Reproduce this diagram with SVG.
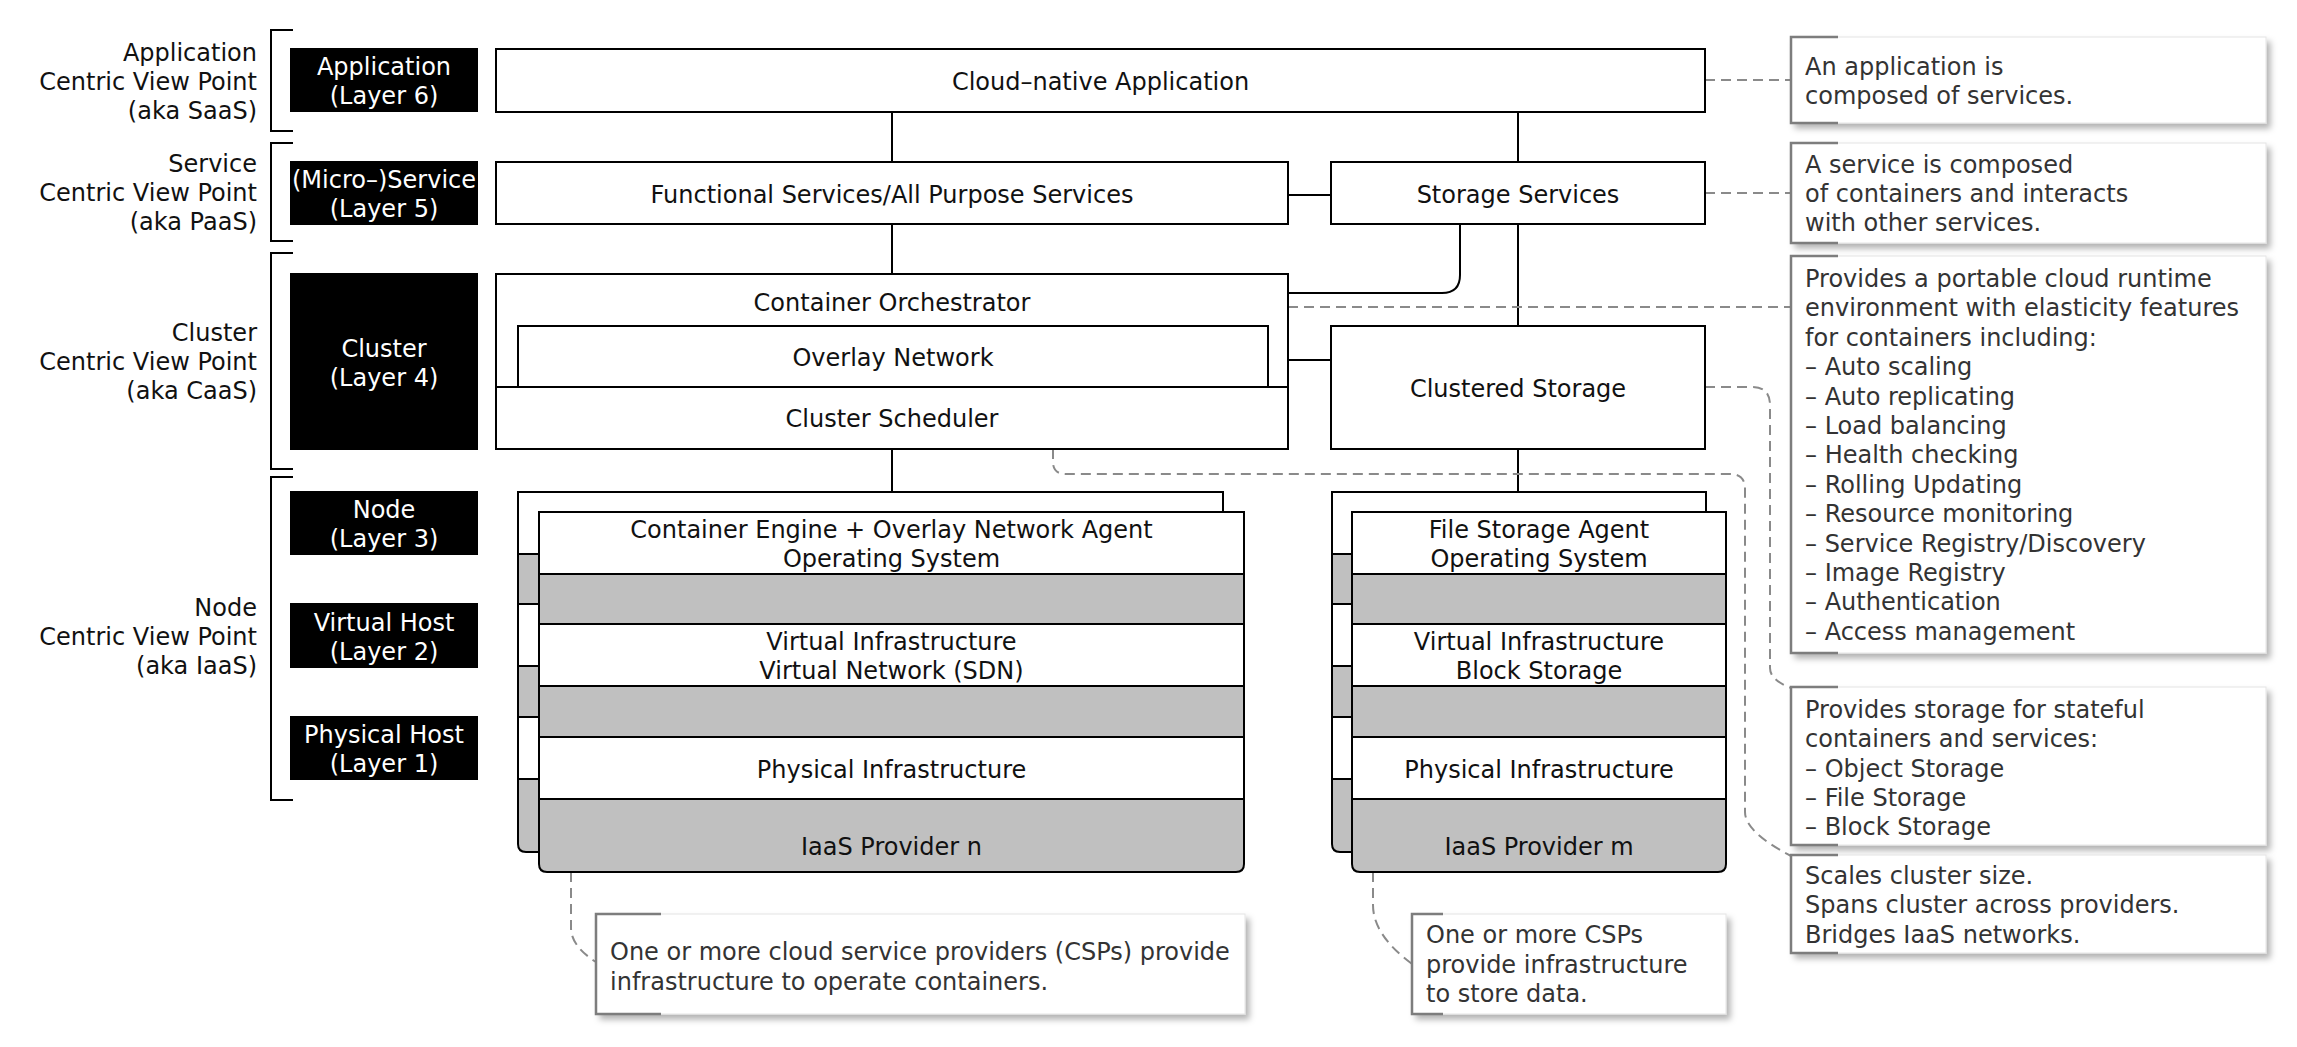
<svg xmlns="http://www.w3.org/2000/svg" xmlns:xlink="http://www.w3.org/1999/xlink" width="2297" height="1047" viewBox="0 0 2297 1047">
<style>
.t{font-family:"DejaVu Sans","Noto Sans","Liberation Sans",sans-serif;font-size:24px;fill:#111}
.c{text-anchor:middle}
.e{text-anchor:end}
.w{fill:#fff}
.nt{fill:#333}
.box{fill:#fff;stroke:#000;stroke-width:2}
.blk{fill:#000}
.ln{stroke:#000;stroke-width:2;fill:none}
.br{stroke:#000;stroke-width:2;fill:none}
.dash{stroke:#8a8a8a;stroke-width:2;fill:none;stroke-dasharray:10 6}
.note{fill:#fff;stroke:#e4e4e4;stroke-width:1;filter:url(#sh)}
.nb{stroke:#7d7d7d;stroke-width:2.5;fill:none}
.gray{fill:#c0c0c0}
</style>
<defs>
<filter id="sh" x="-5%" y="-10%" width="115%" height="130%">
<feDropShadow dx="4" dy="5" stdDeviation="3" flood-color="#000" flood-opacity="0.3"/>
</filter>
<g id="stkL">
<path d="M0,0H705V352Q705,360 697,360H8Q0,360 0,352Z" fill="#fff"/>
<rect class="gray" x="0" y="62" width="705" height="50"/>
<rect class="gray" x="0" y="174" width="705" height="51"/>
<path class="gray" d="M0,287H705V352Q705,360 697,360H8Q0,360 0,352Z"/>
<path class="ln" d="M0,62H705M0,112H705M0,174H705M0,225H705M0,287H705"/>
<path class="ln" d="M0,0H705V352Q705,360 697,360H8Q0,360 0,352Z"/>
</g>
<g id="stkR">
<path d="M0,0H374V352Q374,360 366,360H8Q0,360 0,352Z" fill="#fff"/>
<rect class="gray" x="0" y="62" width="374" height="50"/>
<rect class="gray" x="0" y="174" width="374" height="51"/>
<path class="gray" d="M0,287H374V352Q374,360 366,360H8Q0,360 0,352Z"/>
<path class="ln" d="M0,62H374M0,112H374M0,174H374M0,225H374M0,287H374"/>
<path class="ln" d="M0,0H374V352Q374,360 366,360H8Q0,360 0,352Z"/>
</g>
</defs>
<rect width="2297" height="1047" fill="#fff"/>

<g id="viewpoints">
<path class="br" d="M293,30H271V131H293M293,143H271V241H293M293,253H271V469H293M293,477H271V800H293"/>
<text class="t e" x="257" y="61">Application<tspan x="257" dy="29">Centric View Point</tspan><tspan x="257" dy="29">(aka SaaS)</tspan></text>
<text class="t e" x="257" y="172">Service<tspan x="257" dy="29">Centric View Point</tspan><tspan x="257" dy="29">(aka PaaS)</tspan></text>
<text class="t e" x="257" y="341">Cluster<tspan x="257" dy="29">Centric View Point</tspan><tspan x="257" dy="29">(aka CaaS)</tspan></text>
<text class="t e" x="257" y="616">Node<tspan x="257" dy="29">Centric View Point</tspan><tspan x="257" dy="29">(aka IaaS)</tspan></text>
</g>

<g id="layer6">
<rect class="blk" x="290" y="48" width="188" height="64"/>
<text class="t c w" x="384" y="75">Application<tspan x="384" dy="29">(Layer 6)</tspan></text>
</g>
<g id="layer5">
<rect class="blk" x="290" y="161" width="188" height="64"/>
<text class="t c w" x="384" y="188">(Micro–)Service<tspan x="384" dy="29">(Layer 5)</tspan></text>
</g>
<g id="layer4">
<rect class="blk" x="290" y="273" width="188" height="177"/>
<text class="t c w" x="384" y="357">Cluster<tspan x="384" dy="29">(Layer 4)</tspan></text>
</g>
<g id="layer3">
<rect class="blk" x="290" y="491" width="188" height="64"/>
<text class="t c w" x="384" y="518">Node<tspan x="384" dy="29">(Layer 3)</tspan></text>
</g>
<g id="layer2">
<rect class="blk" x="290" y="603" width="188" height="65"/>
<text class="t c w" x="384" y="631">Virtual Host<tspan x="384" dy="29">(Layer 2)</tspan></text>
</g>
<g id="layer1">
<rect class="blk" x="290" y="716" width="188" height="64"/>
<text class="t c w" x="384" y="743">Physical Host<tspan x="384" dy="29">(Layer 1)</tspan></text>
</g>

<g id="connectors">
<path class="ln" d="M892,112V162M1518,112V162M1288,195H1331M892,224V274M1518,224V326M1460,224V275Q1460,293 1442,293H1288M1288,360H1331M892,449V492M1518,449V492"/>
<path class="dash" d="M1705,80H1791"/>
<path class="dash" d="M1705,193H1791"/>
<path class="dash" d="M1288,307H1791"/>
<path class="dash" d="M1705,387H1752Q1770,387 1770,405V668Q1770,680 1791,688"/>
<path class="dash" d="M1053,449V462Q1053,474 1066,474H1730Q1745,474 1745,489V812Q1745,832 1791,856"/>
<path class="dash" d="M571,872V928Q571,946 596,962"/>
<path class="dash" d="M1373,872V905Q1373,935 1412,964"/>
</g>

<g id="cloud-native-application">
<rect class="box" x="496" y="49" width="1209" height="63"/>
<text class="t c" x="1100.5" y="90">Cloud–native Application</text>
</g>
<g id="functional-services">
<rect class="box" x="496" y="162" width="792" height="62"/>
<text class="t c" x="892" y="203">Functional Services/All Purpose Services</text>
</g>
<g id="storage-services">
<rect class="box" x="1331" y="162" width="374" height="62"/>
<text class="t c" x="1518" y="203">Storage Services</text>
</g>
<g id="container-orchestrator">
<rect class="box" x="496" y="274" width="792" height="175"/>
<text class="t c" x="892" y="311">Container Orchestrator</text>
<rect class="box" x="518" y="326" width="750" height="61"/>
<text class="t c" x="893" y="366">Overlay Network</text>
<path class="ln" d="M496,387H1288"/>
<text class="t c" x="892" y="427">Cluster Scheduler</text>
</g>
<g id="clustered-storage">
<rect class="box" x="1331" y="326" width="374" height="123"/>
<text class="t c" x="1518" y="397">Clustered Storage</text>
</g>

<g id="iaas-provider-n">
<use xlink:href="#stkL" href="#stkL" x="518" y="492"/>
<use xlink:href="#stkL" href="#stkL" x="539" y="512"/>
<text class="t c" x="891.5" y="538">Container Engine + Overlay Network Agent<tspan x="891.5" dy="29">Operating System</tspan></text>
<text class="t c" x="891.5" y="650">Virtual Infrastructure<tspan x="891.5" dy="29">Virtual Network (SDN)</tspan></text>
<text class="t c" x="891.5" y="778">Physical Infrastructure</text>
<text class="t c" x="891.5" y="855">IaaS Provider n</text>
</g>
<g id="iaas-provider-m">
<use xlink:href="#stkR" href="#stkR" x="1332" y="492"/>
<use xlink:href="#stkR" href="#stkR" x="1352" y="512"/>
<text class="t c" x="1539" y="538">File Storage Agent<tspan x="1539" dy="29">Operating System</tspan></text>
<text class="t c" x="1539" y="650">Virtual Infrastructure<tspan x="1539" dy="29">Block Storage</tspan></text>
<text class="t c" x="1539" y="778">Physical Infrastructure</text>
<text class="t c" x="1539" y="855">IaaS Provider m</text>
</g>

<g id="note-application">
<rect class="note" x="1791" y="37" width="475" height="86"/>
<path class="nb" d="M1838,37H1791V123H1838"/>
<text class="t nt" x="1805" y="75">An application is<tspan x="1805" dy="29">composed of services.</tspan></text>
</g>
<g id="note-service">
<rect class="note" x="1791" y="143" width="475" height="100"/>
<path class="nb" d="M1838,143H1791V243H1838"/>
<text class="t nt" x="1805" y="173">A service is composed<tspan x="1805" dy="29">of containers and interacts</tspan><tspan x="1805" dy="29">with other services.</tspan></text>
</g>
<g id="note-cluster">
<rect class="note" x="1791" y="256" width="475" height="397"/>
<path class="nb" d="M1838,256H1791V653H1838"/>
<text class="t nt" x="1805" y="287">Provides a portable cloud runtime<tspan x="1805" dy="29.4">environment with elasticity features</tspan><tspan x="1805" dy="29.4">for containers including:</tspan><tspan x="1805" dy="29.4">– Auto scaling</tspan><tspan x="1805" dy="29.4">– Auto replicating</tspan><tspan x="1805" dy="29.4">– Load balancing</tspan><tspan x="1805" dy="29.4">– Health checking</tspan><tspan x="1805" dy="29.4">– Rolling Updating</tspan><tspan x="1805" dy="29.4">– Resource monitoring</tspan><tspan x="1805" dy="29.4">– Service Registry/Discovery</tspan><tspan x="1805" dy="29.4">– Image Registry</tspan><tspan x="1805" dy="29.4">– Authentication</tspan><tspan x="1805" dy="29.4">– Access management</tspan></text>
</g>
<g id="note-storage">
<rect class="note" x="1791" y="687" width="475" height="158"/>
<path class="nb" d="M1838,687H1791V845H1838"/>
<text class="t nt" x="1805" y="718">Provides storage for stateful<tspan x="1805" dy="29.3">containers and services:</tspan><tspan x="1805" dy="29.3">– Object Storage</tspan><tspan x="1805" dy="29.3">– File Storage</tspan><tspan x="1805" dy="29.3">– Block Storage</tspan></text>
</g>
<g id="note-scheduler">
<rect class="note" x="1791" y="855" width="475" height="98"/>
<path class="nb" d="M1838,855H1791V953H1838"/>
<text class="t nt" x="1805" y="884">Scales cluster size.<tspan x="1805" dy="29.3">Spans cluster across providers.</tspan><tspan x="1805" dy="29.3">Bridges IaaS networks.</tspan></text>
</g>
<g id="note-csp-n">
<rect class="note" x="596" y="914" width="649" height="100"/>
<path class="nb" d="M661,914H596V1014H661"/>
<text class="t nt" x="610" y="960">One or more cloud service providers (CSPs) provide<tspan x="610" dy="30">infrastructure to operate containers.</tspan></text>
</g>
<g id="note-csp-m">
<rect class="note" x="1412" y="914" width="314" height="100"/>
<path class="nb" d="M1443,914H1412V1014H1443"/>
<text class="t nt" x="1426" y="943">One or more CSPs<tspan x="1426" dy="29.5">provide infrastructure</tspan><tspan x="1426" dy="29.5">to store data.</tspan></text>
</g>
</svg>
